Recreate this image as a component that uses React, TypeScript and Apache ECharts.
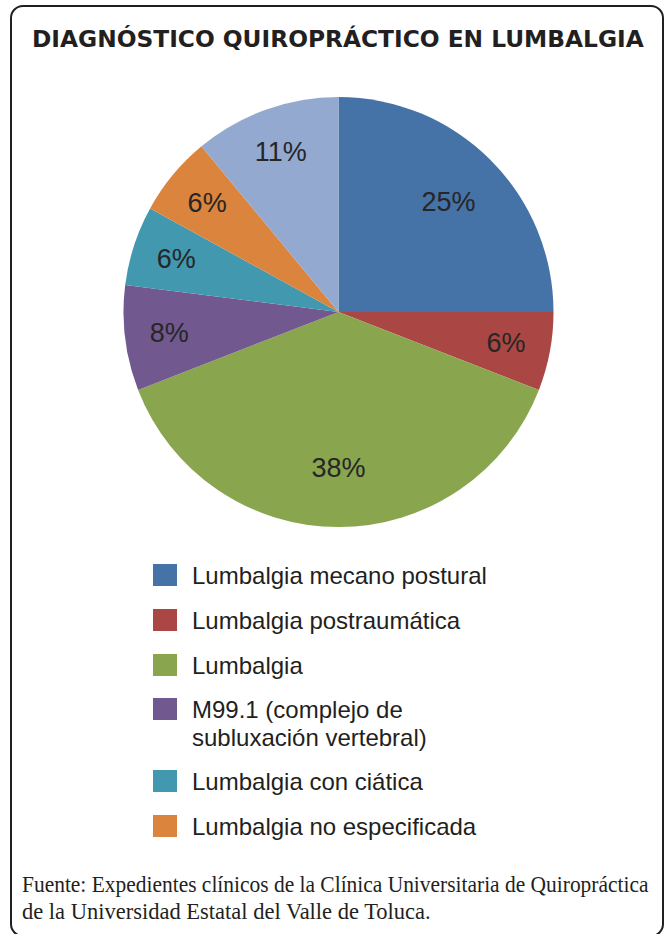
import React, { useEffect, useRef } from "react";
import * as echarts from "echarts";

const TITLE = "DIAGNÓSTICO QUIROPRÁCTICO EN LUMBALGIA";
const categories = [
  "Lumbalgia mecano postural",
  "Lumbalgia postraumática",
  "Lumbalgia",
  "M99.1 (complejo de subluxación vertebral)",
  "Lumbalgia con ciática",
  "Lumbalgia no especificada",
  "Otros",
];
const values = [25.0, 5.9, 38.2, 7.9, 6.0, 6.0, 11.0];
const colors = ["#4572A7", "#AA4643", "#89A54E", "#71588F", "#4198AF", "#DB843D", "#93A9CF"];
// slices whose percentage label sits nearer the centre (Excel "best fit")
const innerLabelSlices = [0, 2];
const footerLines = [
  "Fuente: Expedientes clínicos de la Clínica Universitaria de Quiropráctica",
  "de la Universidad Estatal del Valle de Toluca.",
];

const SANS = "'Liberation Sans', Arial, sans-serif";
const SERIF = "'Liberation Serif', 'Times New Roman', serif";
const INK = "#231F20";

export default function App() {
  const ref = useRef<HTMLDivElement>(null);
  useEffect(() => {
    if (!ref.current) return;
    const chart = echarts.init(ref.current, undefined, { renderer: "svg" });
    const data = categories.map((name, i) => ({
      name,
      value: values[i],
      itemStyle: { color: colors[i] },
    }));
    const labelStyle = {
      position: "inside",
      fontFamily: SANS,
      fontSize: 27,
      color: "#262626",
      formatter: (p: any) => Math.round(p.percent) + "%",
    };
    const labelData = (inner: boolean) =>
      categories.map((name, i) => ({
        name,
        value: values[i],
        label: { show: innerLabelSlices.includes(i) === inner },
      }));
    const legendBase = {
      orient: "vertical" as const,
      left: 153,
      padding: 0,
      icon: "rect",
      itemWidth: 24,
      itemHeight: 22,
      itemGap: 17,
      selectedMode: false,
      textStyle: {
        fontFamily: SANS,
        fontSize: 24,
        lineHeight: 28,
        color: INK,
        padding: [0, 0, 0, 10],
      },
    };
    const labelSeriesBase = {
      type: "pie",
      center: [338.5, 312],
      startAngle: 90,
      clockwise: true,
      silent: true,
      itemStyle: { color: "rgba(0,0,0,0)", borderWidth: 0 },
      emphasis: { disabled: true },
      labelLine: { show: false },
      label: labelStyle,
    };
    chart.setOption({
      animation: false,
      title: {
        text: TITLE,
        left: 32,
        top: 27,
        padding: 0,
        textStyle: {
          fontFamily: "'DejaVu Sans', sans-serif",
          fontWeight: "bold",
          fontSize: 23.3,
          color: INK,
        },
      },
      legend: [
        { ...legendBase, top: 561, data: categories.slice(0, 3) },
        {
          ...legendBase,
          top: 667,
          data: [categories[3]],
          formatter: () => "\nM99.1 (complejo de\nsubluxación vertebral)",
        },
        { ...legendBase, top: 767, data: categories.slice(4, 6) },
      ],
      series: [
        {
          type: "pie",
          center: [338.5, 312],
          radius: 215,
          startAngle: 90,
          clockwise: true,
          silent: true,
          label: { show: false },
          labelLine: { show: false },
          itemStyle: { borderWidth: 0 },
          emphasis: { disabled: true },
          data,
        },
        { ...labelSeriesBase, radius: [120, 215], data: labelData(false) },
        { ...labelSeriesBase, radius: [90, 215], data: labelData(true) },
      ],
      graphic: [
        {
          type: "rect",
          shape: { x: 11, y: 6, width: 652, height: 930, r: 12 },
          style: { fill: "none", stroke: INK, lineWidth: 2 },
          silent: true,
          z: 10,
        },
        {
          type: "text",
          x: 22,
          y: 884,
          scaleX: 0.954,
          style: {
            text: footerLines[0],
            font: `22.5px ${SERIF}`,
            fill: INK,
            verticalAlign: "middle",
          },
        },
        {
          type: "text",
          x: 22,
          y: 911,
          style: {
            text: footerLines[1],
            font: `22.5px ${SERIF}`,
            fill: INK,
            verticalAlign: "middle",
          },
        },
      ],
    });
    return () => chart.dispose();
  }, []);
  return (
    <div
      ref={ref}
      style={{ position: "fixed", left: 0, top: 0, width: 665, height: 934, background: "#fff" }}
    />
  );
}
